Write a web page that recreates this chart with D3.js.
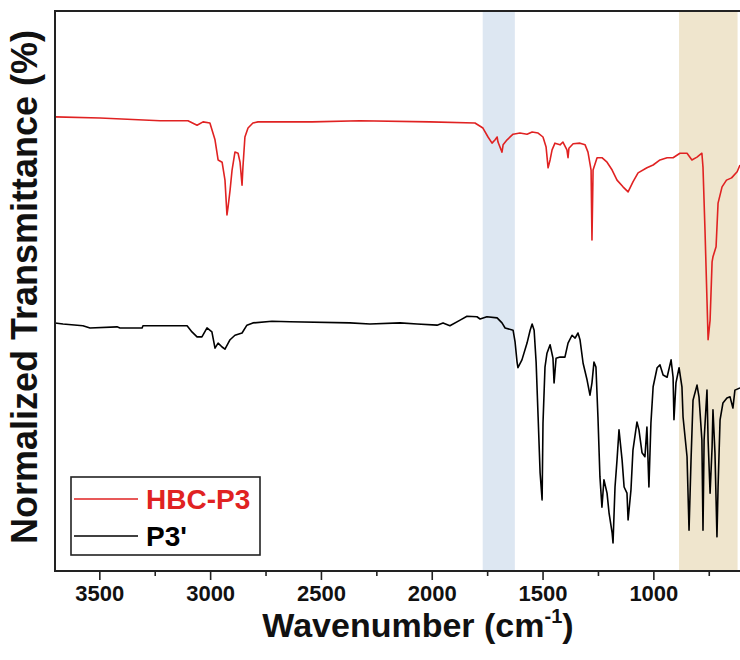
<!DOCTYPE html>
<html>
<head>
<meta charset="utf-8">
<script src="https://cdn.jsdelivr.net/npm/d3@7"></script>
<style>
  body { margin: 0; background: #fff; }
  svg { display: block; font-family: "Liberation Sans", Arial, sans-serif; }
</style>
</head>
<body>
<svg width="740" height="660"></svg>
<script>
// HBC-P3 spectrum (wavenumber, normalized transmittance)
var redWn = [3700,3497,3226,3100,3059,3032,3001,2978,2964,2946,2933,2924,2919,2910,2901,2888,2874,2865,2856,2852,2843,2829,2807,2784,2540,2324,2008,1805,1769,1746,1728,1714,1705,1701,1683,1678,1660,1633,1602,1570,1547,1520,1498,1484,1475,1466,1457,1444,1421,1408,1390,1385,1381,1362,1331,1308,1295,1281,1277,1272,1254,1232,1209,1186,1164,1137,1114,1092,1069,1029,1001,970,938,911,880,848,826,803,781,776,767,758,753,744,735,731,717,708,690,670,647,622,609];
var redT = [81.1,80.9,80.4,80.4,79.6,80.2,80.0,77.0,73.4,73.0,69.8,63.6,65.0,68.0,71.6,74.8,74.6,73.0,68.9,72.1,77.5,79.1,80.0,80.2,80.2,80.4,80.2,80.0,79.1,77.5,76.4,77.0,77.5,76.6,74.8,76.1,77.0,78.0,78.2,78.0,78.4,78.2,77.5,75.7,72.0,73.4,75.2,76.4,76.1,76.6,75.2,73.8,75.5,76.3,76.4,76.1,74.8,71.6,59.1,71.6,73.8,73.8,73.0,71.6,69.8,68.6,67.7,69.5,71.1,72.0,72.5,73.4,73.8,73.8,74.6,74.6,73.4,73.9,74.6,72.1,60.9,48.4,41.3,44.8,55.2,56.1,57.9,65.7,68.6,69.8,70.2,71.3,72.5];

// P3' spectrum
var blackWn = [3700,3664,3574,3542,3420,3407,3307,3303,3104,3082,3059,3037,3014,2992,2978,2964,2946,2933,2910,2888,2856,2834,2807,2721,2640,2369,2279,2143,2066,1976,1949,1918,1872,1841,1796,1782,1751,1705,1683,1669,1633,1624,1615,1611,1593,1570,1556,1547,1538,1529,1520,1511,1502,1498,1489,1480,1466,1453,1448,1439,1421,1399,1385,1367,1353,1340,1331,1317,1299,1286,1277,1268,1259,1250,1241,1232,1223,1209,1200,1186,1182,1173,1164,1155,1141,1132,1119,1114,1101,1092,1074,1065,1051,1038,1029,1020,1011,1001,983,970,956,938,920,911,907,898,884,871,866,848,839,830,821,803,794,781,776,771,758,753,744,735,731,722,713,708,699,686,668,654,641,632,609];
var blackT = [44.3,44.1,43.8,43.4,43.6,43.4,43.4,43.8,43.8,42.7,41.8,41.8,43.4,42.7,39.8,40.7,40.0,39.6,41.3,42.1,42.5,43.9,44.3,44.6,44.5,44.3,44.1,44.3,44.1,43.9,44.3,43.8,44.8,45.5,45.4,45.0,45.4,45.2,44.3,43.4,43.0,40.9,37.3,36.3,37.7,40.7,43.0,44.1,43.0,37.3,27.5,17.5,12.7,26.4,36.4,38.9,40.4,38.0,33.6,38.0,38.2,38.2,40.7,42.1,41.6,42.5,41.3,37.1,34.1,31.4,33.6,37.3,36.4,27.5,16.8,11.4,16.3,13.9,10.4,6.8,5.0,15.0,19.8,25.2,19.8,15.0,13.9,9.1,14.5,21.6,26.6,25.2,21.1,20.4,25.7,15.0,26.4,32.9,36.3,36.8,35.0,34.6,37.7,34.6,27.0,33.6,36.3,32.9,27.5,20.4,7.3,19.8,30.5,33.2,31.1,23.4,7.3,23.4,32.3,23.4,13.9,22.1,28.8,21.1,6.1,15.0,27.0,30.0,30.9,31.1,29.1,32.3,32.7];

// highlighted regions
var bandFrom = [1770, 884];
var bandTo = [1625, 620];
var bandColors = ["#dde7f2", "#efe5cd"];

var majorTicks = [3500, 3000, 2500, 2000, 1500, 1000];
var minorTicks = [3250, 2750, 2250, 1750, 1250, 750];

var seriesNames = ["HBC-P3", "P3'"];
var seriesColors = ["#e02222", "#000000"];

var svg = d3.select("svg"),
    margin = {top: 11, right: -2, bottom: 89, left: 55},
    width = +svg.attr("width") - margin.left - margin.right,
    height = +svg.attr("height") - margin.top - margin.bottom,
    g = svg.append("g").attr("transform", "translate(" + margin.left + "," + margin.top + ")");

var x = d3.scaleLinear().domain([3700, 600]).range([0, width]);
var y = d3.scaleLinear().domain([0, 100]).range([height, 0]);

g.append("defs").append("clipPath").attr("id", "clip")
  .append("rect").attr("width", width).attr("height", height);

// bands
g.append("g").selectAll("rect")
  .data(d3.range(bandFrom.length))
  .enter().append("rect")
  .attr("x", function(i) { return x(bandFrom[i]); })
  .attr("y", 1)
  .attr("width", function(i) { return x(bandTo[i]) - x(bandFrom[i]); })
  .attr("height", height - 1)
  .attr("fill", function(i) { return bandColors[i]; });

var line = d3.line()
  .x(function(d) { return x(d[0]); })
  .y(function(d) { return y(d[1]); });

var series = [d3.zip(redWn, redT), d3.zip(blackWn, blackT)];

g.append("g").attr("clip-path", "url(#clip)")
  .selectAll("path")
  .data(series)
  .enter().append("path")
  .attr("fill", "none")
  .attr("stroke", function(d, i) { return seriesColors[i]; })
  .attr("stroke-width", 1.6)
  .attr("stroke-linejoin", "round")
  .attr("d", line);

// frame
g.append("rect")
  .attr("width", width + 10)
  .attr("height", height)
  .attr("fill", "none")
  .attr("stroke", "#222")
  .attr("stroke-width", 2);

// x axis
var xAxis = g.append("g")
  .attr("transform", "translate(0," + height + ")")
  .call(d3.axisBottom(x).tickValues(majorTicks).tickSize(9).tickPadding(5).tickFormat(d3.format("d")));
xAxis.select(".domain").remove();
xAxis.selectAll("line").attr("stroke", "#222").attr("stroke-width", 1.6);
xAxis.selectAll("text")
  .attr("font-size", 22)
  .attr("font-weight", "bold")
  .attr("fill", "#111")
  .attr("font-family", "Liberation Sans, Arial, sans-serif");

var xMinor = g.append("g")
  .attr("transform", "translate(0," + height + ")")
  .call(d3.axisBottom(x).tickValues(minorTicks).tickSize(5).tickFormat(""));
xMinor.select(".domain").remove();
xMinor.selectAll("line").attr("stroke", "#222").attr("stroke-width", 1.6);

// axis titles
var xt = svg.append("text")
  .attr("x", 418)
  .attr("y", 637)
  .attr("text-anchor", "middle")
  .attr("font-size", 34)
  .attr("font-weight", "bold")
  .attr("fill", "#111");
xt.append("tspan").text("Wavenumber (cm");
xt.append("tspan").attr("font-size", 20).attr("dy", -14).text("-1");
xt.append("tspan").attr("dy", 14).text(")");

svg.append("text")
  .attr("transform", "translate(37," + (margin.top + height / 2 - 4) + ") rotate(-90)")
  .attr("text-anchor", "middle")
  .attr("font-size", 36)
  .attr("font-weight", "bold")
  .attr("fill", "#111")
  .text("Normalized Transmittance (%)");

// legend
var legend = svg.append("g");
legend.append("rect")
  .attr("x", 71).attr("y", 477)
  .attr("width", 189).attr("height", 78)
  .attr("fill", "#fff")
  .attr("stroke", "#222")
  .attr("stroke-width", 1.6);

var item = legend.selectAll("g")
  .data(seriesNames)
  .enter().append("g")
  .attr("transform", function(d, i) { return "translate(0," + (499 + i * 37) + ")"; });

item.append("line")
  .attr("x1", 74).attr("x2", 138)
  .attr("stroke", function(d, i) { return seriesColors[i]; })
  .attr("stroke-width", 1.6);

item.append("text")
  .attr("x", 146)
  .attr("dy", "0.35em")
  .attr("font-size", 28)
  .attr("font-weight", "bold")
  .attr("fill", function(d, i) { return seriesColors[i]; })
  .text(function(d) { return d; });
</script>
</body>
</html>
